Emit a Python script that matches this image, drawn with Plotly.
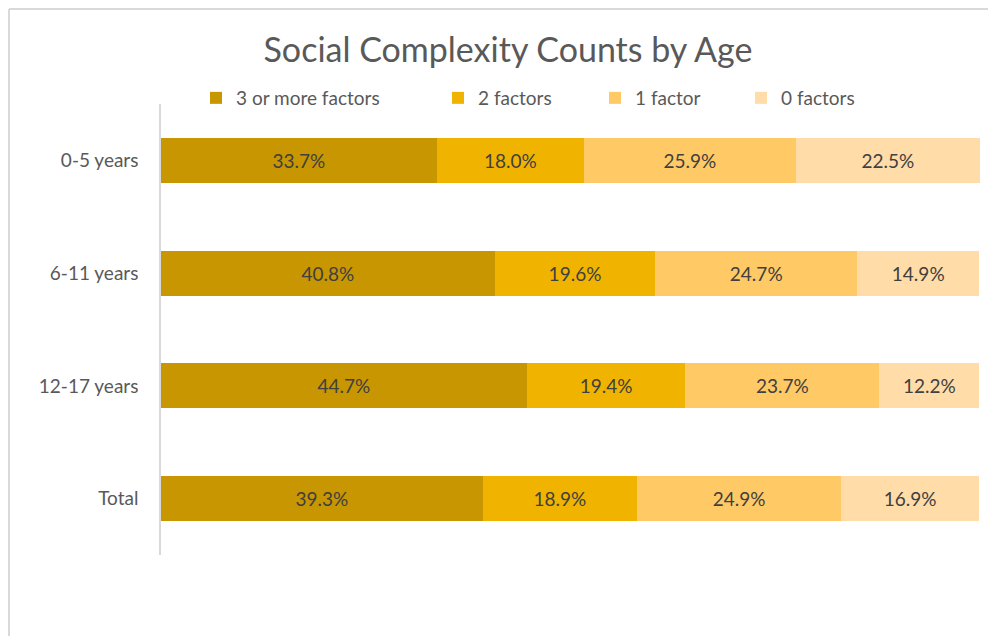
import plotly.graph_objects as go

categories = ["0-5 years", "6-11 years", "12-17 years", "Total"]
series_names = ["3 or more factors", "2 factors", "1 factor", "0 factors"]
three_plus = [33.7, 40.8, 44.7, 39.3]
two = [18.0, 19.6, 19.4, 18.9]
one = [25.9, 24.7, 23.7, 24.9]
zero = [22.5, 14.9, 12.2, 16.9]
values = [three_plus, two, one, zero]
colors = ["#C89600", "#F0B400", "#FFC966", "#FFDCA8"]

FONT = "Lato, 'Open Sans', sans-serif"
OFF = 8  # page body margin
W, H = 980, 628
L, T = 161 - OFF, 104 - OFF
B = H - (555 - OFF)
R = W - (980 - OFF)
pw, ph = W - L - R, H - T - B


def px_x(p):
    return (p - OFF - L) / pw


def px_y(p):
    return 1 - (p - OFF - T) / ph


legend_names = ["legend", "legend2", "legend3", "legend4"]
square_centers = [216, 458, 615, 761]

fig = go.Figure()
for name, vals, col, lg in zip(series_names, values, colors, legend_names):
    fig.add_trace(go.Bar(
        y=categories, x=vals, name=name, orientation="h", legend=lg,
        showlegend=True,
        marker=dict(color=col, line=dict(width=0)),
        text=[f"{v:.1f}%" for v in vals], textposition="inside",
        insidetextanchor="middle", textangle=0,
        textfont=dict(family=FONT, size=19, color="#404040"),
    ))

legend_common = dict(orientation="h", xanchor="left", yanchor="middle",
                     font=dict(family=FONT, size=19, color="#595959"),
                     itemwidth=30, bgcolor="rgba(0,0,0,0)", borderwidth=0)
layout_legends = {}
for lg, cx in zip(legend_names, square_centers):
    layout_legends[lg] = dict(x=px_x(cx - 20), y=px_y(98), **legend_common)

fig.update_layout(
    width=W, height=H,
    showlegend=True,
    margin=dict(l=L, r=R, t=T, b=B),
    paper_bgcolor="white", plot_bgcolor="white",
    barmode="stack", bargap=0.6,
    title=dict(text="Social Complexity Counts by Age", xref="paper", x=px_x(508),
               xanchor="center", yref="container",
               y=1 - (50 - OFF) / H, yanchor="middle",
               font=dict(family=FONT, size=34, color="#595959")),
    xaxis=dict(range=[0, 100.1], visible=False, fixedrange=True),
    yaxis=dict(autorange="reversed", showline=True, linecolor="#D9D9D9", linewidth=1.5,
               ticks="", ticklabelstandoff=17, showgrid=False, zeroline=False,
               tickfont=dict(family=FONT, size=19, color="#595959")),
    uniformtext=dict(minsize=10, mode="show"),
    shapes=[
        dict(type="line", xref="paper", yref="paper", x0=px_x(OFF + 1), x1=px_x(1200),
             y0=px_y(OFF + 1), y1=px_y(OFF + 1), line=dict(color="#D9D9D9", width=2)),
        dict(type="line", xref="paper", yref="paper", x0=px_x(OFF + 1), x1=px_x(OFF + 1),
             y0=px_y(OFF + 1), y1=px_y(900), line=dict(color="#D9D9D9", width=2)),
    ],
    **layout_legends,
)

fig.write_html("out.html")
